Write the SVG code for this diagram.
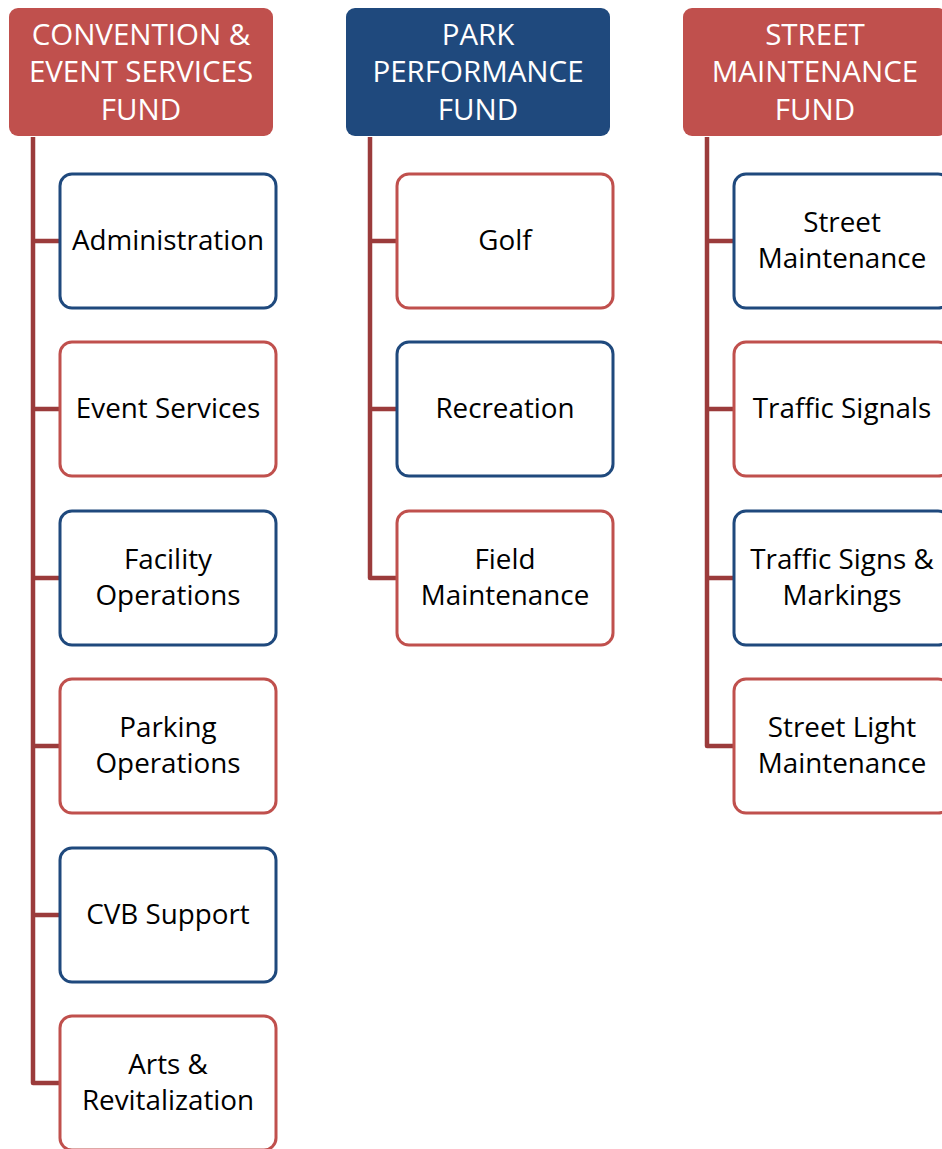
<svg xmlns="http://www.w3.org/2000/svg" width="942" height="1149" viewBox="0 0 942 1149">
<style>
.hdr{stroke:none}
.hr{fill:#C0504D}
.hb{fill:#1F497D}
.ht{font-family:"Open Sans","Noto Sans",sans-serif;font-size:29.5px;fill:#FFFFFF;text-anchor:middle}
.box{fill:#FFFFFF;stroke-width:3}
.br{stroke:#C0504D}
.bb{stroke:#1F497D}
.bt{font-family:"Open Sans","Noto Sans",sans-serif;font-size:27.8px;fill:#000000;text-anchor:middle}
.con{fill:none;stroke:#9B3B3B;stroke-width:4.5;stroke-linejoin:round}
</style>
<rect width="942" height="1149" fill="#FFFFFF"/>
<g id="connectors">
<path class="con" d="M33 137 V1083 H60 M33 241 H60 M33 409 H60 M33 578 H60 M33 746 H60 M33 915 H60"/>
<path class="con" d="M370 137 V578 H397 M370 241 H397 M370 409 H397"/>
<path class="con" d="M707 137 V746 H734 M707 241 H734 M707 409 H734 M707 578 H734"/>
</g>
<g id="h1"><rect class="hdr hr" x="9" y="8" width="264" height="128" rx="9"/><text class="ht" x="141" y="45">CONVENTION &amp;</text><text class="ht" x="141" y="82">EVENT SERVICES</text><text class="ht" x="141" y="120">FUND</text></g>
<g id="h2"><rect class="hdr hb" x="346" y="8" width="264" height="128" rx="9"/><text class="ht" x="478" y="45">PARK</text><text class="ht" x="478" y="82">PERFORMANCE</text><text class="ht" x="478" y="120">FUND</text></g>
<g id="h3"><rect class="hdr hr" x="683" y="8" width="264" height="128" rx="9"/><text class="ht" x="815" y="45">STREET</text><text class="ht" x="815" y="82">MAINTENANCE</text><text class="ht" x="815" y="120">FUND</text></g>
<g id="c1a"><rect class="box bb" x="60" y="174" width="216" height="134" rx="12"/><text class="bt" x="168" y="250">Administration</text></g>
<g id="c1b"><rect class="box br" x="60" y="342" width="216" height="134" rx="12"/><text class="bt" x="168" y="418">Event Services</text></g>
<g id="c1c"><rect class="box bb" x="60" y="511" width="216" height="134" rx="12"/><text class="bt" x="168" y="569">Facility</text><text class="bt" x="168" y="605">Operations</text></g>
<g id="c1d"><rect class="box br" x="60" y="679" width="216" height="134" rx="12"/><text class="bt" x="168" y="737">Parking</text><text class="bt" x="168" y="773">Operations</text></g>
<g id="c1e"><rect class="box bb" x="60" y="848" width="216" height="134" rx="12"/><text class="bt" x="168" y="924">CVB Support</text></g>
<g id="c1f"><rect class="box br" x="60" y="1016" width="216" height="134" rx="12"/><text class="bt" x="168" y="1074">Arts &amp;</text><text class="bt" x="168" y="1110">Revitalization</text></g>
<g id="c2a"><rect class="box br" x="397" y="174" width="216" height="134" rx="12"/><text class="bt" x="505" y="250">Golf</text></g>
<g id="c2b"><rect class="box bb" x="397" y="342" width="216" height="134" rx="12"/><text class="bt" x="505" y="418">Recreation</text></g>
<g id="c2c"><rect class="box br" x="397" y="511" width="216" height="134" rx="12"/><text class="bt" x="505" y="569">Field</text><text class="bt" x="505" y="605">Maintenance</text></g>
<g id="c3a"><rect class="box bb" x="734" y="174" width="216" height="134" rx="12"/><text class="bt" x="842" y="232">Street</text><text class="bt" x="842" y="268">Maintenance</text></g>
<g id="c3b"><rect class="box br" x="734" y="342" width="216" height="134" rx="12"/><text class="bt" x="842" y="418">Traffic Signals</text></g>
<g id="c3c"><rect class="box bb" x="734" y="511" width="216" height="134" rx="12"/><text class="bt" x="842" y="569">Traffic Signs &amp;</text><text class="bt" x="842" y="605">Markings</text></g>
<g id="c3d"><rect class="box br" x="734" y="679" width="216" height="134" rx="12"/><text class="bt" x="842" y="737">Street Light</text><text class="bt" x="842" y="773">Maintenance</text></g>
</svg>
